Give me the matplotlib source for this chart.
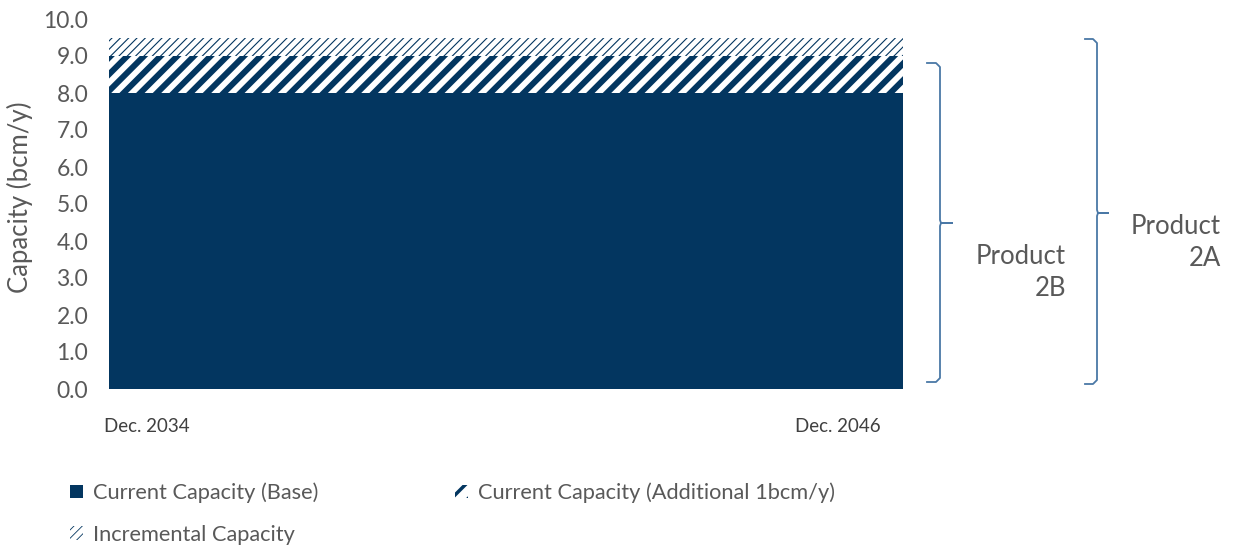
import numpy as np
import matplotlib
matplotlib.use("Agg")
import matplotlib.pyplot as plt
from matplotlib.lines import Line2D
from matplotlib.patches import Patch
from matplotlib.transforms import ScaledTranslation

# data
dates = ["Dec. 2034", "Dec. 2046"]
base = [8.0, 8.0]
additional = [1.0, 1.0]
incremental = [0.5, 0.5]
series_names = ["Current Capacity (Base)", "Current Capacity (Additional 1bcm/y)", "Incremental Capacity"]
yticks = np.arange(0, 10.5, 1.0)

navy = "#033660"
grey = "#595959"
brace_col = "#4a78a6"

plt.rcParams['font.family'] = ['Lato', 'DejaVu Sans']
plt.rcParams['hatch.color'] = navy

W, H = 1233, 546
fig = plt.figure(figsize=(W / 100, H / 100), dpi=100)
ax = fig.add_axes([109 / W, 1 - 389 / H, (903 - 109) / W, (389 - 19) / H])

x = np.arange(len(dates))
b = np.array(base)
a = b + np.array(additional)
inc = a + np.array(incremental)

ax.fill_between(x, 0, b, color=navy, lw=0)
plt.rcParams['hatch.linewidth'] = 4.3
ax.fill_between(x, b, a, facecolor="white", edgecolor=navy, hatch="//", lw=0)
plt.rcParams['hatch.linewidth'] = 0.8
ax.fill_between(x, a, inc, facecolor="white", edgecolor=navy, hatch="////", lw=0)

ax.set_xlim(0, 1)
ax.set_ylim(0, 10)
ax.set_yticks(yticks)
ax.set_yticklabels([f"{v:.1f}" for v in yticks], fontsize=16.5, color=grey)
ax.set_xticks(x)
ax.set_xticklabels(dates, fontsize=13.5, color="#404040")
ax.tick_params(axis='y', length=0, pad=15)
ax.tick_params(axis='x', length=0, pad=21)
for s in ax.spines.values():
    s.set_visible(False)

# shift x labels to match the reference placement
xl = ax.get_xticklabels()
xl[0].set_transform(xl[0].get_transform() + ScaledTranslation(0.38, 0, fig.dpi_scale_trans))
xl[1].set_transform(xl[1].get_transform() + ScaledTranslation(-0.65, 0, fig.dpi_scale_trans))

ax.set_ylabel("Capacity (bcm/y)", fontsize=18.5, color=grey)
ax.yaxis.set_label_coords((33 - 109) / 794, (389 - 197) / 370)

# curly braces drawn in figure pixels
def brace(x0, x1, xt, ytop, ybot, ymid):
    r = 4
    xs = [x0, x1 - r, x1, x1, x1 + 1, xt, x1 + 1, x1, x1, x1 - r, x0]
    ys = [ytop, ytop, ytop + r, ymid - 3, ymid, ymid, ymid, ymid + 3, ybot - r, ybot, ybot]
    fig.add_artist(Line2D([v / W for v in xs], [1 - v / H for v in ys],
                          color=brace_col, lw=1.3, transform=fig.transFigure))

brace(927, 940, 952, 63, 382, 223)
brace(1085, 1097, 1108, 39, 384, 213)

fig.text(1066 / W, 1 - 272 / H, "Product\n2B", ha="right", va="center",
         fontsize=18.5, color=grey, linespacing=1.35)
fig.text(1221 / W, 1 - 242 / H, "Product\n2A", ha="right", va="center",
         fontsize=18.5, color=grey, linespacing=1.35)

handles = [Patch(facecolor=navy, edgecolor="none"),
           Patch(facecolor="white", edgecolor=navy, hatch="////", lw=0),
           Patch(facecolor="white", edgecolor=navy, hatch="//", lw=0)]
# legend fills column-wise, so order is Base, Incremental | Additional
order = [0, 2, 1]

leg = fig.legend(handles, [series_names[i] for i in order], loc="upper left",
                 bbox_to_anchor=(50 / W, 1 - 463 / H),
                 ncol=2, frameon=False, fontsize=15.7, labelcolor=grey,
                 handlelength=0.6, handleheight=0.6, handletextpad=0.45,
                 columnspacing=6.3, labelspacing=1.0)
lp = leg.get_patches()
if hasattr(lp[1], "set_hatch_linewidth"):
    lp[1].set_hatch_linewidth(0.6)
    lp[2].set_hatch_linewidth(2.5)

fig.savefig("out.png", dpi=100)
